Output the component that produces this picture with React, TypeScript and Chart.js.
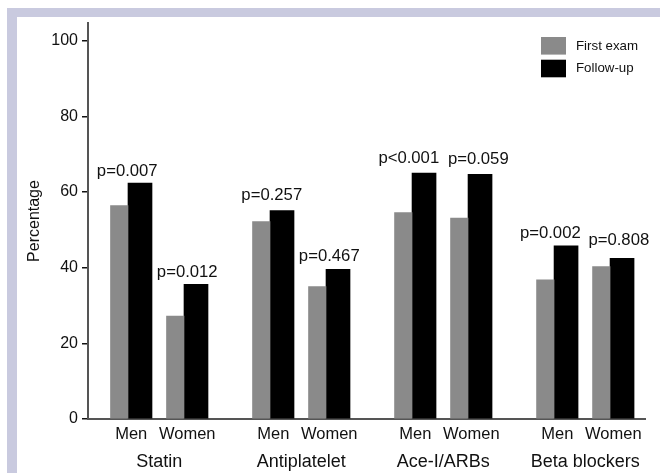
import React, { useEffect, useRef } from "react";
import { Chart, registerables } from "chart.js";

Chart.register(...registerables);

// ---- data ----
const categories = ["Statin", "Antiplatelet", "Ace-I/ARBs", "Beta blockers"];
const sexes = ["Men", "Women"];
const firstExam = [56.4, 27.2, 52.2, 35.0, 54.6, 53.1, 36.8, 40.3];
const followUp = [62.4, 35.6, 55.1, 39.6, 65.0, 64.7, 45.8, 42.5];
const pValues = ["p=0.007", "p=0.012", "p=0.257", "p=0.467", "p<0.001", "p=0.059", "p=0.002", "p=0.808"];
const yTicks = [0, 20, 40, 60, 80, 100];
const seriesNames = ["First exam", "Follow-up"];

// ---- layout (not data) ----
const GROUP_STEP = 2.536;
const FONT = "'Liberation Sans', Arial, sans-serif";
const GRAY = "#8a8a8a";
const BLACK = "#000000";
const LAV = "#c9cadf";
const TEXT = "#111111";
// small manual nudges of the p-value labels (px), as in the original figure
const pNudgeX = [-4, 0, -1.5, 0, -6.5, 7, -7, 5.5];
const pNudgeY = [-1, 0, 3, 1, 3, 3, 0, 6];

const xPos: number[] = [];
categories.forEach((_, g) => sexes.forEach((_, s) => xPos.push(g * GROUP_STEP + s)));

const labelsPlugin = {
  id: "customLabels",
  afterDraw(chart: any) {
    const ctx = chart.ctx as CanvasRenderingContext2D;
    const area = chart.chartArea;
    const m0 = chart.getDatasetMeta(0);
    const m1 = chart.getDatasetMeta(1);
    ctx.save();
    ctx.fillStyle = TEXT;
    const centers: number[] = [];
    for (let i = 0; i < xPos.length; i++) {
      const b0 = m0.data[i];
      const b1 = m1.data[i];
      const left = b0.x - b0.width / 2;
      const right = b1.x + b1.width / 2;
      const c = (left + right) / 2;
      centers.push(c);
      // sex label
      ctx.font = `16.5px ${FONT}`;
      ctx.textAlign = "center";
      ctx.textBaseline = "middle";
      ctx.fillText(sexes[i % 2], c, area.bottom + 15);
      // p value
      ctx.font = `16.7px ${FONT}`;
      ctx.textBaseline = "alphabetic";
      const top = Math.min(b0.y, b1.y);
      ctx.fillText(pValues[i], c + pNudgeX[i], top - 7.5 - pNudgeY[i]);
    }
    // category labels
    ctx.font = `18px ${FONT}`;
    ctx.textBaseline = "middle";
    categories.forEach((cat, g) => {
      const c = (centers[g * 2] + centers[g * 2 + 1]) / 2;
      ctx.fillText(cat, c, area.bottom + 43);
    });
    // legend
    const bx = area.right - 104;
    const by = area.top + 14;
    const colors = [GRAY, BLACK];
    ctx.font = `13.3px ${FONT}`;
    ctx.textAlign = "left";
    ctx.textBaseline = "middle";
    seriesNames.forEach((name, k) => {
      const y = by + k * 22.7;
      ctx.fillStyle = colors[k];
      ctx.fillRect(bx, y, 25, 17.6);
      ctx.fillStyle = TEXT;
      ctx.fillText(name, bx + 35, y + 9);
    });
    ctx.restore();
  },
};

export default function App() {
  const ref = useRef<HTMLCanvasElement>(null);
  useEffect(() => {
    if (!ref.current) return;
    const chart = new Chart(ref.current, {
      type: "bar",
      data: {
        datasets: [
          {
            label: seriesNames[0],
            data: xPos.map((x, i) => ({ x, y: firstExam[i] })),
            backgroundColor: GRAY,
            barThickness: 17.5,
            borderWidth: 0,
          },
          {
            label: seriesNames[1],
            data: xPos.map((x, i) => ({ x, y: followUp[i] })),
            backgroundColor: BLACK,
            barThickness: 24,
            borderWidth: 0,
          },
        ],
      } as any,
      options: {
        animation: false,
        responsive: false,
        layout: { padding: { top: 23, right: 15, left: 0, bottom: 0 } },
        plugins: { legend: { display: false }, tooltip: { enabled: false } },
        scales: {
          x: {
            type: "linear",
            min: -40 / 56,
            max: 517 / 56,
            offset: false,
            grid: { display: false },
            ticks: { display: false },
            border: { display: true, color: "#555555", width: 2 },
            afterFit: (s: any) => {
              s.height = 54;
            },
          },
          y: {
            type: "linear",
            min: 0,
            max: 104.7,
            afterBuildTicks: (s: any) => {
              s.ticks = yTicks.map((v) => ({ value: v }));
            },
            ticks: {
              font: { family: FONT, size: 16 },
              color: TEXT,
              padding: 4,
            },
            grid: {
              drawOnChartArea: false,
              drawTicks: true,
              tickLength: 6,
              color: "#111111",
              lineWidth: 1.5,
            },
            border: { display: true, color: "#555555", width: 2 },
            title: {
              display: true,
              text: "Percentage",
              font: { family: FONT, size: 16 },
              color: TEXT,
              padding: { top: 25, bottom: 0 },
            },
            afterFit: (s: any) => {
              s.width = 88;
            },
          },
        },
      } as any,
      plugins: [labelsPlugin],
    });
    return () => chart.destroy();
  }, []);

  return (
    <div style={{ position: "absolute", left: 0, top: 0, width: 660, height: 473, background: "#ffffff", overflow: "hidden" }}>
      <div style={{ position: "absolute", left: 7, top: 8, width: 653, height: 9, background: LAV }} />
      <div style={{ position: "absolute", left: 7, top: 8, width: 10, height: 465, background: LAV }} />
      <canvas ref={ref} width={660} height={473} style={{ position: "absolute", left: 0, top: 0, width: 660, height: 473 }} />
    </div>
  );
}
